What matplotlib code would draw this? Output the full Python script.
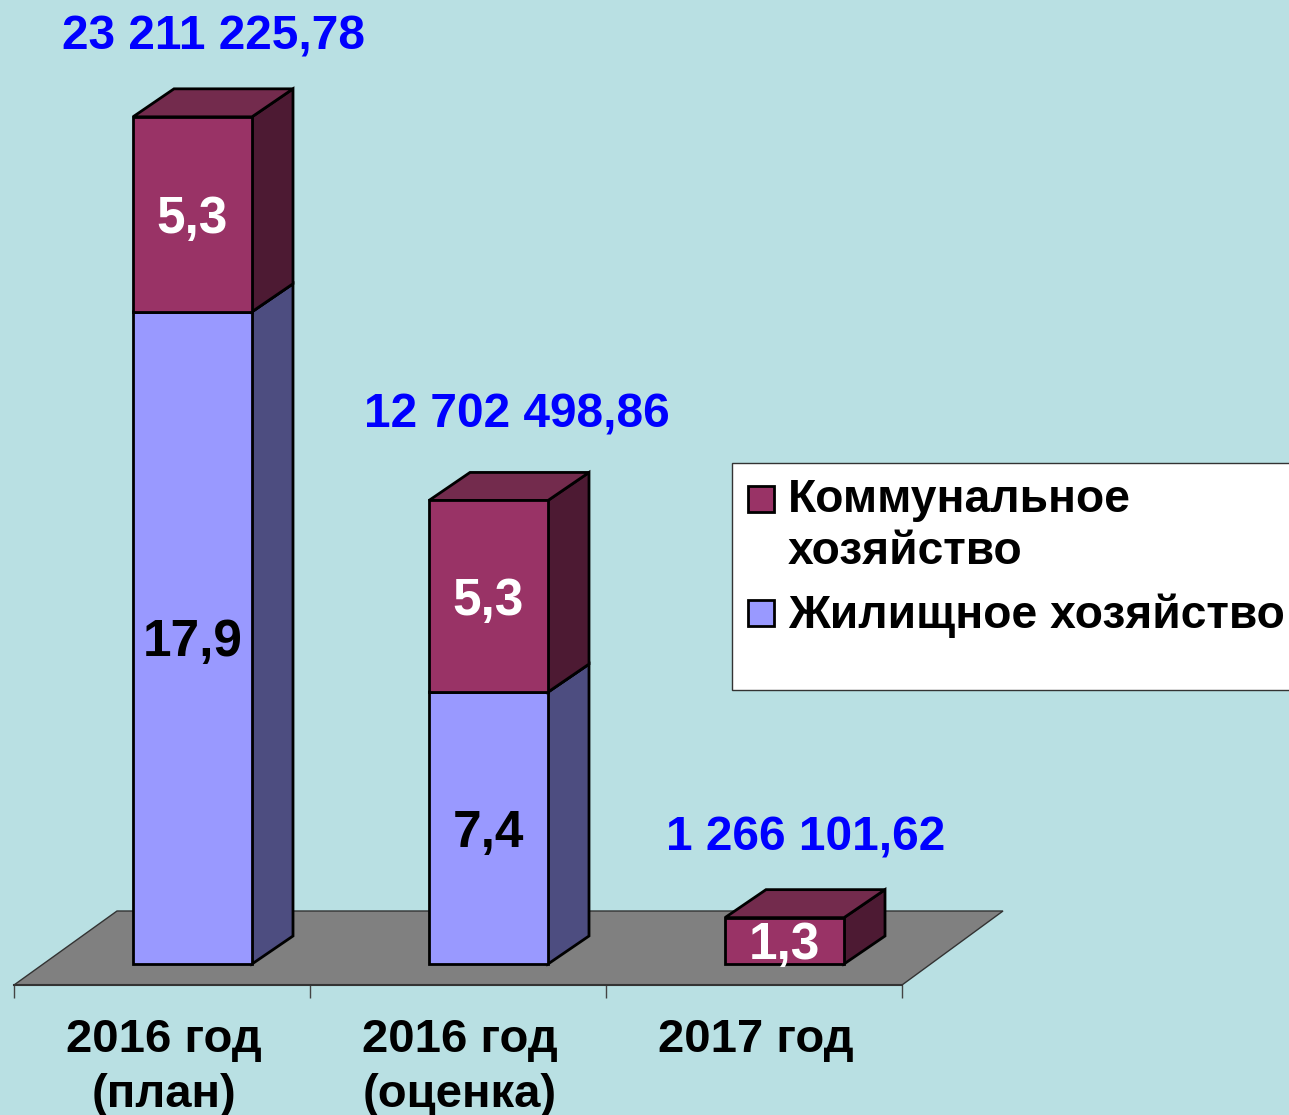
import numpy as np
import matplotlib
matplotlib.use('Agg')
import matplotlib.pyplot as plt
from matplotlib.patches import Polygon, Rectangle
from matplotlib.transforms import ScaledTranslation

categories = ['2016 год\n(план)', '2016 год\n(оценка)', '2017 год']
housing = [17.87, 7.45, 0.0]
communal = [5.34, 5.25, 1.27]
housing_labels = ['17,9', '7,4', '']
communal_labels = ['5,3', '5,3', '1,3']
totals = ['23 211 225,78', '12 702 498,86', '1 266 101,62']
legend_names = ['Коммунальное\nхозяйство', 'Жилищное хозяйство']

W, H = 1289, 1115
BG = '#B9E0E3'
PLUM = ('#993366', '#732B4D', '#4D1A33')
BLUE = ('#9999FF', '#7373BF', '#4D4D80')

plt.rcParams['font.family'] = ['Liberation Sans', 'DejaVu Sans']
plt.rcParams['font.weight'] = 'bold'

fig = plt.figure(figsize=(W / 100, H / 100), dpi=100, facecolor=BG)
# оси: низ - передний край "пола", по x три категории
ax = fig.add_axes([14 / W, (H - 985) / H, 888 / W, 985 / H], facecolor='none')
x_per_px = 3 / 888
y_per_px = 1 / 36.5
ax.set_xlim(-0.5, 2.5)
ax.set_ylim(-21 * y_per_px, 964 * y_per_px)

# сдвиг глубины и положение столбика на полу
dx = 41 * x_per_px
dy = 28 * y_per_px
shift = 30.5 * x_per_px
bar_w = 119 * x_per_px
y0 = ax.get_ylim()[0]

# пол
floor_dy = 74 * y_per_px
ax.add_patch(Polygon([(-0.5, y0), (2.5, y0), (2.5 + 101 * x_per_px, y0 + floor_dy), (-0.5 + 103 * x_per_px, y0 + floor_dy)],
                     closed=True, fc='#808080', ec='#333333', lw=1, clip_on=False, zorder=1))


def box(x, bottom, height, colors, z):
    left = x + shift - bar_w / 2
    right = left + bar_w
    top = bottom + height
    edge = dict(ec='black', lw=2.0, joinstyle='miter', clip_on=False, zorder=z)
    ax.add_patch(Polygon([(right, bottom), (right + dx, bottom + dy), (right + dx, top + dy), (right, top)], fc=colors[2], **edge))
    ax.add_patch(Polygon([(left, top), (right, top), (right + dx, top + dy), (left + dx, top + dy)], fc=colors[1], **edge))
    ax.add_patch(Rectangle((left, bottom), bar_w, height, fc=colors[0], **edge))


# подпись суммы второго столбика в оригинале стоит чуть в стороне
total_nudge = [(0, 0), (7, 6), (0, 0)]
for i in range(len(categories)):
    if housing[i] > 0:
        box(i, 0, housing[i], BLUE, 2)
        ax.text(i + shift, housing[i] / 2 - 5 * y_per_px, housing_labels[i], ha='center', va='center',
                fontsize=37, color='black', zorder=5)
    box(i, housing[i], communal[i], PLUM, 3)
    ax.text(i + shift, housing[i] + communal[i] / 2 - 5 * y_per_px, communal_labels[i], ha='center', va='center',
            fontsize=37, color='white', zorder=5)
    ax.text(i + shift + (21 + total_nudge[i][0]) * x_per_px, housing[i] + communal[i] + (57 + total_nudge[i][1]) * y_per_px,
            totals[i], ha='center', va='bottom', fontsize=34.5, color='#0000FF', clip_on=False, zorder=5)

# ось x: риски между категориями, подписи по центру
for s in ['top', 'left', 'right']:
    ax.spines[s].set_visible(False)
ax.spines['bottom'].set_color('#333333')
ax.spines['bottom'].set_linewidth(1.5)
ax.set_yticks([])
ax.set_xticks(range(len(categories)))
ax.set_xticklabels(categories, fontsize=34, linespacing=1.3, color='black')
ax.set_xticks([-0.5, 0.5, 1.5, 2.5], minor=True)
ax.tick_params(axis='x', which='major', length=0, pad=24)
ax.tick_params(axis='x', which='minor', length=9.5, width=1, color='#444444')
for lab in ax.get_xticklabels():
    lab.set_transform(lab.get_transform() + ScaledTranslation(2 / 100, 0, fig.dpi_scale_trans))

# легенда, справа уходит за край картинки
overlay = fig.add_axes([0, 0, 1, 1], facecolor='none')
overlay.set_xlim(0, W)
overlay.set_ylim(H, 0)
overlay.axis('off')
overlay.add_patch(Rectangle((732, 463), 600, 227, fc='white', ec='#333333', lw=1))
for name, color, y_key, y_txt in zip(legend_names, [PLUM[0], BLUE[0]], [498, 612], [526, 616]):
    overlay.add_patch(Rectangle((747.5, y_key - 12.5), 26, 26, fc=color, ec='black', lw=2))
    overlay.text(788, y_txt, name, ha='left', va='center', fontsize=33.3, linespacing=1.21, color='black')

fig.savefig('out.png', dpi=100, facecolor=BG)
